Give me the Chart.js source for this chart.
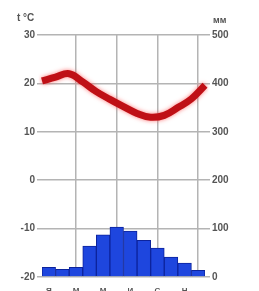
<!DOCTYPE html>
<html>
<head>
<meta charset="utf-8">
<script src="https://cdn.jsdelivr.net/npm/chart.js@4"></script>
<style>body{margin:0;background:#fff}</style>
</head>
<body>
<canvas id="myChart" width="259" height="291"></canvas>
<script>
// months (Russian initials), precipitation per month (mm)
var months = ['Я','Ф','М','А','М','И','И','А','С','О','Н','Д'];
var precip = [20, 16, 20, 64, 87, 103, 95, 76, 60, 41, 29, 14];
// temperature read at month boundaries (0..12)
var bounds = ['0','1','2','3','4','5','6','7','8','9','10','11','12'];
var temp = [20.5, 21.3, 22, 20.3, 18.3, 16.7, 15.2, 13.8, 13, 13.4, 15, 16.8, 19.6];
var tempTicks = [30, 20, 10, 0, -10, -20];
var precipTicks = [500, 400, 300, 200, 100, 0];

var tickFont = { family: 'Liberation Sans', size: 10, weight: 'bold' };
var tickColor = '#555';
var gridColor = '#b4b4b4';

var axisTitles = {
  id: 'axisTitles',
  afterDraw: function (chart) {
    var c = chart.ctx;
    c.save();
    c.font = 'bold 10px "Liberation Sans"';
    c.fillStyle = tickColor;
    c.textBaseline = 'middle';
    c.fillText('t °C', 17, 18);
    c.font = 'bold 9px "Liberation Sans"';
    c.fillText('мм', 213, 21);
    c.restore();
  }
};

var lineGlow = {
  id: 'lineGlow',
  beforeDatasetDraw: function (chart, args) {
    if (args.index !== 0) return;
    chart.ctx.save();
    chart.ctx.shadowColor = 'rgba(255,90,90,0.8)';
    chart.ctx.shadowBlur = 4;
  },
  afterDatasetDraw: function (chart, args) {
    if (args.index !== 0) return;
    chart.ctx.restore();
  }
};

var ctx = document.getElementById('myChart');

var myChart = new Chart(ctx, {
  type: 'bar',
  data: {
    labels: months,
    datasets: [{
      type: 'line',
      label: 'Температура',
      data: temp,
      xAxisID: 'xg',
      yAxisID: 'y',
      borderColor: '#bf1016',
      borderWidth: 7,
      pointRadius: 0,
      tension: 0.4,
      order: 0
    }, {
      label: 'Осадки',
      data: precip,
      xAxisID: 'x',
      yAxisID: 'y1',
      backgroundColor: '#1e46de',
      borderColor: '#0c239c',
      borderWidth: 1,
      grouped: false,
      barPercentage: 1,
      categoryPercentage: 1,
      order: 1
    }]
  },
  options: {
    responsive: false,
    animation: false,
    layout: { padding: { top: 35, left: 0, right: 0, bottom: 0 } },
    plugins: {
      legend: { display: false },
      tooltip: { enabled: false }
    },
    scales: {
      x: {
        position: 'bottom',
        grid: { display: false },
        border: { display: false },
        ticks: {
          font: { family: 'Liberation Sans', size: 8, weight: 'bold' },
          color: tickColor,
          autoSkip: false,
          maxRotation: 0,
          padding: 1,
          callback: function (v, i) { return i % 2 === 0 ? months[i] : ''; }
        },
        afterFit: function (s) { s.height = 14; }
      },
      xg: {
        type: 'category',
        labels: bounds,
        position: 'top',
        offset: false,
        ticks: { display: false },
        border: { display: false },
        grid: {
          drawTicks: false,
          lineWidth: 1.5,
          color: function (c) { return c.index % 3 === 0 ? gridColor : 'rgba(0,0,0,0)'; }
        },
        afterFit: function (s) { s.height = 0; }
      },
      y: {
        position: 'left',
        min: tempTicks[tempTicks.length - 1],
        max: tempTicks[0],
        ticks: { stepSize: 10, font: tickFont, color: tickColor, padding: 2 },
        grid: { color: gridColor, lineWidth: 1.5, tickLength: 5 },
        border: { display: false },
        afterFit: function (s) { s.width = 42; }
      },
      y1: {
        position: 'right',
        min: precipTicks[precipTicks.length - 1],
        max: precipTicks[0],
        ticks: { stepSize: 100, font: tickFont, color: tickColor, padding: 2 },
        grid: { drawOnChartArea: false, color: gridColor, lineWidth: 1.5, tickLength: 5 },
        border: { display: false },
        afterFit: function (s) { s.width = 54; }
      }
    }
  },
  plugins: [axisTitles, lineGlow]
});
</script>
</body>
</html>
